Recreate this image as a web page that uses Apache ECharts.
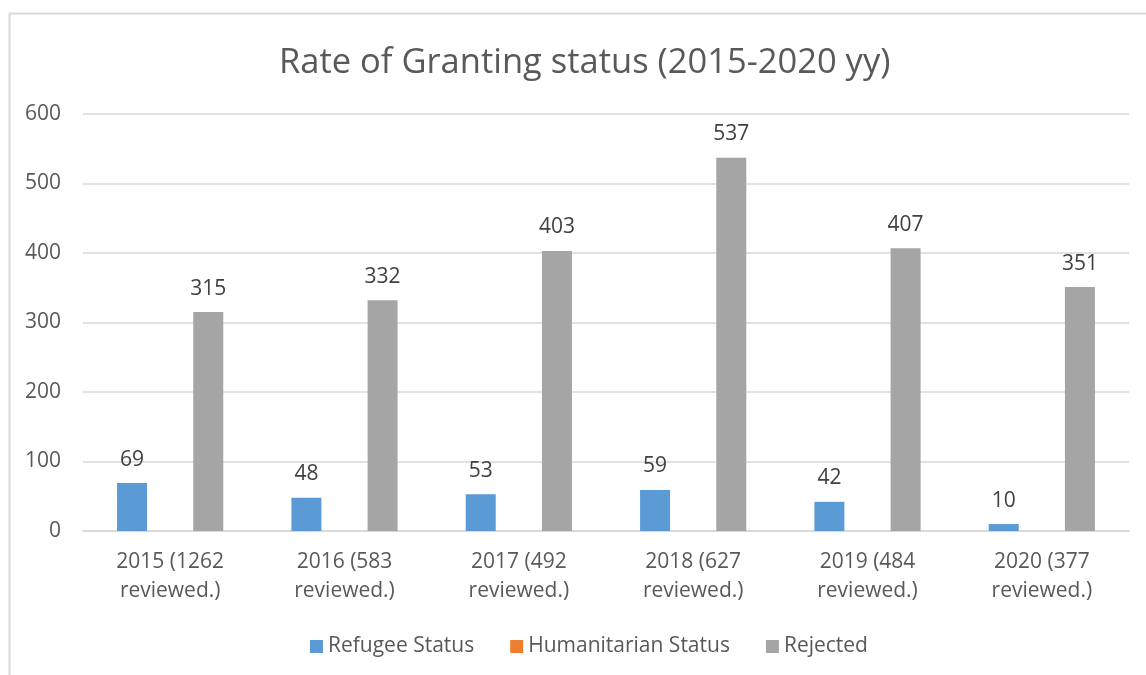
<!DOCTYPE html>
<html>
<head>
<meta charset="utf-8">
<script src="https://cdn.jsdelivr.net/npm/echarts@6/dist/echarts.min.js"></script>
<style>
  html, body { margin: 0; padding: 0; background: #fff; }
  #chart { width: 1146px; height: 675px; }
</style>
</head>
<body>
<div id="chart"></div>
<script>
  // 数据
  var categories = ['2015 (1262\nreviewed.)', '2016 (583\nreviewed.)', '2017 (492\nreviewed.)',
    '2018 (627\nreviewed.)', '2019 (484\nreviewed.)', '2020 (377\nreviewed.)']
  var refugee = [69, 48, 53, 59, 42, 10]
  var humanitarian = [null, null, null, null, null, null]
  var rejected = [315, 332, 403, 537, 407, 351]
  var yTicks = [0, 600, 100]

  var font = '"Segoe UI", "Open Sans", sans-serif'
  var chart = echarts.init(document.getElementById('chart'))

  var labelStyle = {
    show: true,
    position: 'top',
    distance: 13,
    color: '#404040',
    fontSize: 21,
    fontFamily: font
  }

  var option = {
    backgroundColor: '#fff',
    animation: false,
    graphic: [{
      type: 'rect',
      left: 7, top: 11,
      shape: { width: 1200, height: 700 },
      style: { fill: 'none', stroke: '#d9d9d9', lineWidth: 2 },
      silent: true
    }],
    title: {
      text: 'Rate of Granting status (2015-2020 yy)',
      left: 274,
      top: 41,
      textStyle: { color: '#595959', fontSize: 34.5, fontWeight: 'normal', fontFamily: font }
    },
    legend: {
      top: 631,
      left: 305,
      itemWidth: 13,
      itemHeight: 13,
      itemGap: 36,
      icon: 'rect',
      textStyle: { color: '#595959', fontSize: 21, fontFamily: font },
      data: ['Refugee Status', 'Humanitarian Status', 'Rejected']
    },
    grid: { left: 83, right: 17, top: 114, bottom: 144, containLabel: false },
    xAxis: {
      type: 'category',
      data: categories,
      axisLine: { lineStyle: { color: '#d9d9d9', width: 2 } },
      axisTick: { show: false },
      axisLabel: { color: '#595959', fontSize: 21, fontFamily: font, lineHeight: 29, margin: 17 }
    },
    yAxis: {
      type: 'value',
      min: yTicks[0],
      max: yTicks[1],
      interval: yTicks[2],
      axisLine: { show: false },
      axisTick: { show: false },
      axisLabel: { color: '#595959', fontSize: 21, fontFamily: font, margin: 22 },
      splitLine: { lineStyle: { color: '#d9d9d9', width: 1.5 } }
    },
    series: [
      {
        name: 'Refugee Status',
        type: 'bar',
        data: refugee,
        barWidth: 30,
        barGap: '27%',
        itemStyle: { color: '#5b9bd5' },
        label: labelStyle
      },
      {
        name: 'Humanitarian Status',
        type: 'bar',
        data: humanitarian,
        barWidth: 30,
        itemStyle: { color: '#ed7d31' }
      },
      {
        name: 'Rejected',
        type: 'bar',
        data: rejected,
        barWidth: 30,
        itemStyle: { color: '#a5a5a5' },
        label: labelStyle
      }
    ]
  }

  chart.setOption(option)
</script>
</body>
</html>
